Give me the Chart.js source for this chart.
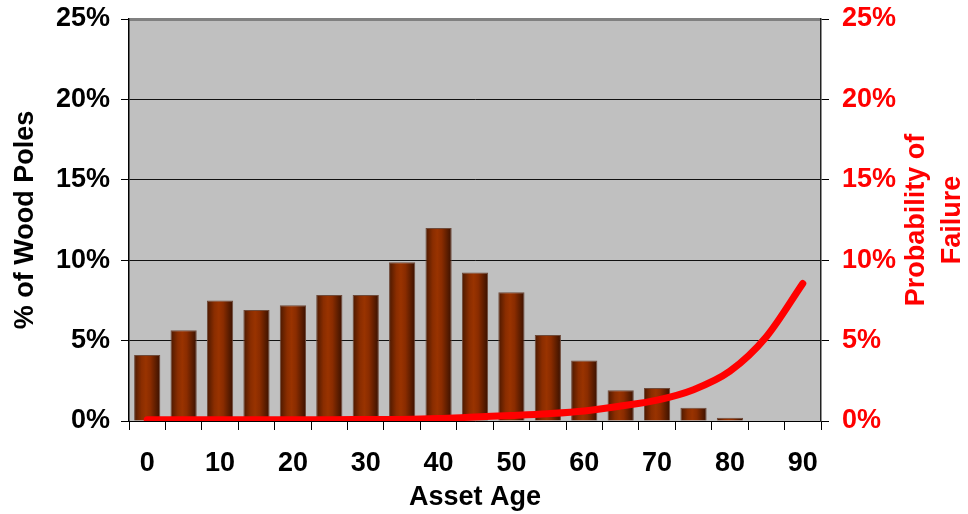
<!DOCTYPE html>
<html>
<head>
<meta charset="utf-8">
<script src="https://cdn.jsdelivr.net/npm/chart.js@4/dist/chart.umd.min.js"></script>
<style>
  html, body { margin: 0; padding: 0; background: #ffffff; }
  #wrap { width: 968px; height: 514px; position: relative; }
</style>
</head>
<body>
<div id="wrap"><canvas id="c" width="968" height="514"></canvas></div>
<script>
// Asset age groups (years)
const ageGroups = ['0', '5', '10', '15', '20', '25', '30', '35', '40', '45',
                   '50', '55', '60', '65', '70', '75', '80', '85', '90'];
// Share of the wood pole population in each age group (%)
const polesShare = [4.1, 5.65, 7.5, 6.9, 7.2, 7.83, 7.83, 9.88, 12.0, 9.23,
                    8.0, 5.35, 3.77, 1.91, 2.06, 0.82, 0.2, 0, 0];
// Probability of failure at each age (%)
const failureProb = [0.08, 0.08, 0.08, 0.08, 0.08, 0.08, 0.09, 0.1, 0.15, 0.25,
                     0.34, 0.45, 0.62, 0.93, 1.3, 1.95, 3.1, 5.24, 8.55];
// Axis tick values (%)
const percentTicks = [0, 5, 10, 15, 20, 25];

const FONT = '"Liberation Sans", Arial, sans-serif';
const BAR_PCT = 0.72;

// Cylinder-like shading for each bar
function barShade(c) {
  const chart = c.chart;
  const xs = chart.scales && chart.scales.x;
  if (!xs || c.type !== 'data' || !isFinite(xs.width)) return '#993300';
  const cx = xs.getPixelForValue(c.dataIndex);
  const w = (xs.width / ageGroups.length) * BAR_PCT;
  const g = chart.ctx.createLinearGradient(cx - w / 2, 0, cx + w / 2, 0);
  g.addColorStop(0, '#4a1800');
  g.addColorStop(0.28, '#8a2d00');
  g.addColorStop(0.45, '#993300');
  g.addColorStop(0.62, '#8a2c00');
  g.addColorStop(0.86, '#561b00');
  g.addColorStop(1, '#3a1000');
  return g;
}

const plotBackground = {
  id: 'plotBackground',
  beforeDraw(chart) {
    const { ctx, chartArea: a } = chart;
    ctx.save();
    ctx.fillStyle = '#c0c0c0';
    ctx.fillRect(a.left, a.top, a.right - a.left, a.bottom - a.top);
    ctx.restore();
  }
};

// Two-line title of the right axis, reading bottom to top
const rightTitle = {
  id: 'rightTitle',
  afterDraw(chart) {
    const { ctx, chartArea: a } = chart;
    const lines = ['Probability of', 'Failure'];
    const cy = (a.top + a.bottom) / 2;
    ctx.save();
    ctx.fillStyle = '#ff0000';
    ctx.font = 'bold 27px ' + FONT;
    ctx.textAlign = 'center';
    ctx.textBaseline = 'middle';
    lines.forEach((t, i) => {
      ctx.save();
      ctx.translate(917 + i * 36, cy);
      ctx.rotate(-Math.PI / 2);
      ctx.fillText(t, 0, 0);
      ctx.restore();
    });
    ctx.restore();
  }
};

const pct = v => v + '%';
const noPad = s => { s.paddingTop = 0; s.paddingBottom = 0; };

new Chart(document.getElementById('c'), {
  data: {
    labels: ageGroups,
    datasets: [
      {
        type: 'line',
        label: 'Probability of Failure',
        data: failureProb,
        yAxisID: 'y1',
        borderColor: '#ff0000',
        borderWidth: 7,
        borderCapStyle: 'round',
        borderJoinStyle: 'round',
        cubicInterpolationMode: 'monotone',
        pointRadius: 0,
        order: 0
      },
      {
        type: 'bar',
        label: '% of Wood Poles',
        data: polesShare,
        yAxisID: 'y',
        backgroundColor: barShade,
        borderColor: '#6e4a3a',
        borderWidth: 1,
        borderSkipped: 'bottom',
        barPercentage: BAR_PCT,
        categoryPercentage: 1,
        order: 1
      }
    ]
  },
  options: {
    responsive: false,
    animation: false,
    devicePixelRatio: 1,
    layout: { padding: { top: 19, left: 0, right: 0, bottom: 0 } },
    plugins: {
      legend: { display: false },
      tooltip: { enabled: false },
      title: { display: false }
    },
    scales: {
      x: {
        type: 'category',
        offset: true,
        grid: {
          offset: true,
          drawOnChartArea: false,
          color: '#000',
          tickLength: 9
        },
        border: { color: '#000', width: 1 },
        ticks: {
          color: '#000',
          padding: 17,
          maxRotation: 0,
          autoSkip: false,
          font: { family: FONT, size: 27, weight: 'bold' },
          callback: (v, i) => (i % 2 === 0 ? ageGroups[i] : '')
        },
        title: {
          display: true,
          text: 'Asset Age',
          color: '#000',
          font: { family: FONT, size: 27, weight: 'bold' },
          padding: { top: 0, bottom: 0 }
        },
        afterFit: s => { s.height = 93; s.paddingLeft = 0; s.paddingRight = 0; }
      },
      y: {
        position: 'left',
        min: 0,
        max: 25,
        afterBuildTicks: s => { s.ticks = percentTicks.map(v => ({ value: v })); },
        grid: {
          color: c => (c.tick && c.tick.value === 25 ? '#808080' : '#111'),
          lineWidth: c => (c.tick && c.tick.value === 25 ? 3 : 1),
          tickColor: '#000',
          tickWidth: 1,
          tickLength: 8
        },
        border: { color: '#000', width: 1.5 },
        ticks: {
          color: '#000',
          padding: 11,
          font: { family: FONT, size: 27, weight: 'bold' },
          callback: pct
        },
        title: {
          display: true,
          text: '% of Wood Poles',
          color: '#000',
          font: { family: FONT, size: 27, weight: 'bold' },
          padding: { top: 9, bottom: 0 }
        },
        afterFit: s => { s.width = 129; noPad(s); }
      },
      y1: {
        position: 'right',
        min: 0,
        max: 25,
        afterBuildTicks: s => { s.ticks = percentTicks.map(v => ({ value: v })); },
        grid: {
          drawOnChartArea: false,
          color: '#000',
          tickLength: 8
        },
        border: { color: '#222', width: 1.5 },
        ticks: {
          color: '#ff0000',
          padding: 13,
          font: { family: FONT, size: 27, weight: 'bold' },
          callback: pct
        },
        afterFit: s => { s.width = 147; noPad(s); }
      }
    }
  },
  plugins: [plotBackground, rightTitle]
});
</script>
</body>
</html>
